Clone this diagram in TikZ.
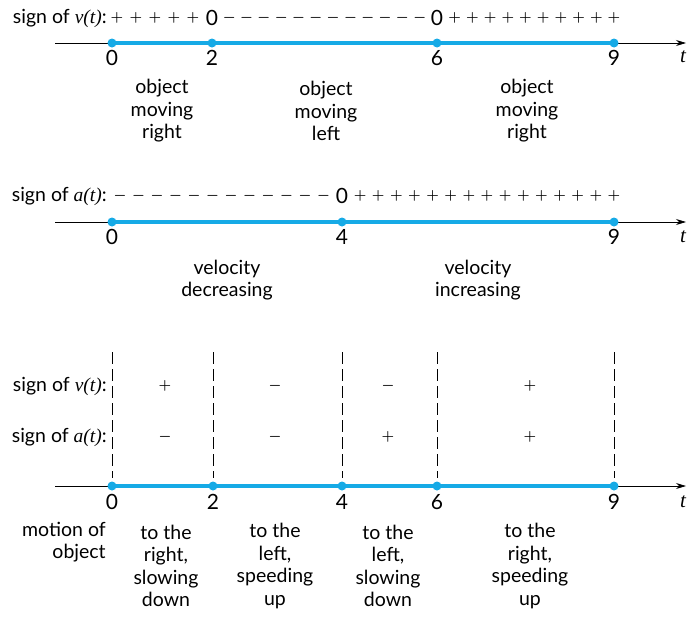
\documentclass[tikz,border=0pt]{standalone}
\usepackage{amsmath}
\usepackage{fontspec}
\setmainfont{Lato}
\newfontfamily\varfont{Liberation Serif}
\usetikzlibrary{arrows.meta}
\definecolor{lineblue}{RGB}{22,170,230}
\newcommand{\fv}[1]{{\varfont\itshape #1(t)}}

\begin{document}
\begin{tikzpicture}[x=1pt, y=-1pt, line width=0.6pt,
  txt/.style={font=\fontsize{19.5}{22.5}\selectfont, align=center, inner sep=0pt},
  num/.style={font=\fontsize{21}{22}\selectfont, inner sep=0pt},
  sgn/.style={font=\fontsize{13.5}{20}\selectfont, inner sep=0pt},
  dot/.style={circle, fill=lineblue, inner sep=0pt, minimum size=9pt},
  seg/.style={lineblue, line width=3.5pt},
  axis/.style={-{Stealth[length=10pt, width=6pt]}, line width=0.8pt},
  vline/.style={dash pattern=on 12pt off 5pt, line width=0.8pt}]
\useasboundingbox (0,0) rectangle (687,616);
% --- Top line: sign of v(t) ---
\node[txt, anchor=east] (lv1) at (107,18) {sign of \fv{v}:};
\node[num] (z1a) at (212,18) {0};
\node[num] (z1b) at (437,18) {0};
\foreach \k in {1,...,5} \node[sgn] (s1p\k) at ({212-19*\k},18) {$\boldsymbol{+}$};
\foreach \k in {1,...,12} \node[sgn] (s1m\k) at ({212+\k*225/13},18) {$\boldsymbol{-}$};
\foreach \k in {1,...,10} \node[sgn] (s1q\k) at ({437+\k*17.7},18) {$\boldsymbol{+}$};
\coordinate (a1s) at (55,43); \coordinate (a1e) at (686,43);
\draw[axis] (a1s) -- (a1e);
\node[dot] (p10) at (112,43) {};
\node[dot] (p12) at (212,43) {};
\node[dot] (p16) at (437,43) {};
\node[dot] (p19) at (614,43) {};
\draw[seg] (p10.center) -- (p12.center) -- (p16.center) -- (p19.center);
\node[num] (n10) at (112,58) {0};
\node[num] (n12) at (212,58) {2};
\node[num] (n16) at (437,58) {6};
\node[num] (n19) at (614,58) {9};
\node[num] (t1) at (683,57) {\varfont\itshape t};
\node[txt] (m11) at (162,111) {object\\moving\\right};
\node[txt] (m12) at (326,111) {object\\moving\\left};
\node[txt] (m13) at (527,111) {object\\moving\\right};
% --- Middle line: sign of a(t) ---
\node[txt, anchor=east] (la2) at (107,196) {sign of \fv{a}:};
\node[num] (z2a) at (342,196) {0};
\foreach \k in {1,...,12} \node[sgn] (s2m\k) at ({342-18.5*\k},196) {$\boldsymbol{-}$};
\foreach \k in {1,...,15} \node[sgn] (s2p\k) at ({342+\k*18.13},196) {$\boldsymbol{+}$};
\coordinate (a2s) at (55,222); \coordinate (a2e) at (686,222);
\draw[axis] (a2s) -- (a2e);
\node[dot] (p20) at (112,222) {};
\node[dot] (p24) at (342,222) {};
\node[dot] (p29) at (614,222) {};
\draw[seg] (p20.center) -- (p24.center) -- (p29.center);
\node[num] (n20) at (112,237) {0};
\node[num] (n24) at (342,237) {4};
\node[num] (n29) at (614,237) {9};
\node[num] (t2) at (683,237) {\varfont\itshape t};
\node[txt] (m21) at (227,280) {velocity\\decreasing};
\node[txt] (m22) at (478,280) {velocity\\increasing};
% --- Bottom line: combined signs ---
\foreach \x/\n in {112/0, 213/2, 342/4, 437/6, 614/9} {
  \coordinate (d\n t) at (\x,352);
  \coordinate (d\n b) at (\x,478);
  \draw[vline] (d\n t) -- (d\n b);
}
\node[txt, anchor=east] (lv3) at (107,386) {sign of \fv{v}:};
\node[txt, anchor=east] (la3) at (107,437) {sign of \fv{a}:};
\node[sgn] (v31) at (165,386) {$\boldsymbol{+}$};
\node[sgn] (v32) at (275,386) {$\boldsymbol{-}$};
\node[sgn] (v33) at (388,386) {$\boldsymbol{-}$};
\node[sgn] (v34) at (530,386) {$\boldsymbol{+}$};
\node[sgn] (a31) at (165,437) {$\boldsymbol{-}$};
\node[sgn] (a32) at (275,437) {$\boldsymbol{-}$};
\node[sgn] (a33) at (388,437) {$\boldsymbol{+}$};
\node[sgn] (a34) at (530,437) {$\boldsymbol{+}$};
\coordinate (a3s) at (55,486); \coordinate (a3e) at (686,486);
\draw[axis] (a3s) -- (a3e);
\node[dot] (p30) at (112,486) {};
\node[dot] (p32) at (213,486) {};
\node[dot] (p34) at (342,486) {};
\node[dot] (p36) at (437,486) {};
\node[dot] (p39) at (614,486) {};
\draw[seg] (p30.center) -- (p32.center) -- (p34.center) -- (p36.center) -- (p39.center);
\node[num] (n30) at (112,502) {0};
\node[num] (n32) at (213,502) {2};
\node[num] (n34) at (342,502) {4};
\node[num] (n36) at (437,502) {6};
\node[num] (n39) at (614,502) {9};
\node[num] (t3) at (683,502) {\varfont\itshape t};
\node[txt, align=right, anchor=east] (mo) at (106,542) {motion of\\object};
\node[txt] (m31) at (166,566) {to the\\right,\\slowing\\down};
\node[txt] (m32) at (275,566) {to the\\left,\\speeding\\up};
\node[txt] (m33) at (388,566) {to the\\left,\\slowing\\down};
\node[txt] (m34) at (530,566) {to the\\right,\\speeding\\up};
\end{tikzpicture}
\end{document}
